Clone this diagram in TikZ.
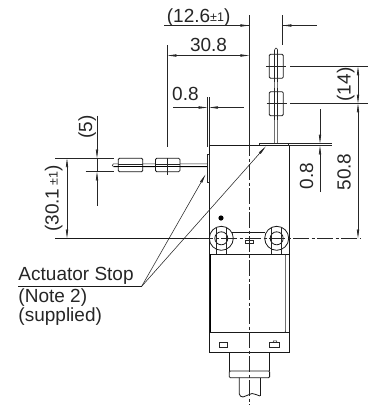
\documentclass[tikz,border=0pt]{standalone}
\usepackage{fontspec}
\setmainfont{Liberation Sans}
\usetikzlibrary{arrows.meta}
\tikzset{
 x=1pt,y=-1pt,
 thin line/.style={line width=0.55pt,black!85},
 body/.style={line width=0.8pt,black!90},
 dimtip/.style={thin line,-{Stealth[length=12pt,width=3.2pt,inset=5pt]}},
 dimboth/.style={thin line,{Stealth[length=12pt,width=3.2pt,inset=5pt]}-{Stealth[length=12pt,width=3.2pt,inset=5pt]}},
 lab/.style={inner sep=0pt,text=black!85,font=\fontsize{19}{19}\selectfont},
 pad/.style={body,rounded corners=1.2pt},
 centre/.style={line width=0.6pt,black!85,dash pattern=on 16pt off 2.5pt on 3pt off 2.5pt},
}
\newcommand{\tol}{{\fontsize{12.5}{12.5}\selectfont\raisebox{1pt}{±1}}}
\begin{document}
\begin{tikzpicture}
\useasboundingbox (0,0) rectangle (368,405);
\fill[white] (0,0) rectangle (368,405);
% named reference points
\coordinate (cx) at (249.3,15);
\coordinate (cb) at (249.3,405);
% body
\draw[body] (209.7,145.5) -- (289,145.5) -- (289,352.3) -- (209.7,352.3) -- cycle;
\draw[body] (209.7,254.3) -- (289,254.3);
\draw[body] (209.7,332.3) -- (289,332.3);
\draw[line width=1.1pt] (210.7,254.3) -- (210.7,332.3);
\draw[thin line] (284.8,254.3) to[out=0,in=90] (285.6,257) -- (285.6,330) to[out=-90,in=0] (284.6,332.3);
% lugs
\draw[body] (232,232.3) -- (265,232.3);
\fill[black] (221,218) circle (2.6);
\foreach \lx in {221.3,276.7}{
 \draw[body] (\lx,238.3) circle (12);
 \draw[body] (\lx,238.3) circle (6.5);
 \draw[thin line] (\lx-5,228) -- (\lx-5,254.3) (\lx+5,228) -- (\lx+5,254.3);
}
\draw[thin line,fill=white] (245.3,240) rectangle (253.3,243.2);
% bottom
\draw[thin line] (219,342.7) rectangle (227.3,347.3);
\draw[thin line] (269.7,342.5) rectangle (279.7,347.3);
\draw[thin line] (273,342.5) -- (273.5,340.8) -- (276.5,340.8) -- (277,342.5);
\draw[body] (229.7,352.3) -- (229.7,371) (269.3,352.3) -- (269.3,371);
\draw[body,rounded corners=1pt] (229.3,371) rectangle (269.6,377.7);
\draw[body] (239.3,377.7) -- (239.3,394) to[out=-80,in=180] (243,397) to[out=0,in=180] (252,393.5) to[out=0,in=170] (260,396);
\draw[body] (260,377.7) -- (260,396);
% top actuator
\draw[thin line] (274.7,145.5) -- (274.7,49.5) -- (276,48) -- (277.7,49.5) -- (277.7,145.5);
\foreach \py in {54.3,91.7}{
 \draw[pad,fill=white] (269.3,\py) rectangle (283.3,\py+24);
 \draw[thin line] (274.7,\py-4) -- (274.7,\py+28) (277.7,\py-4) -- (277.7,\py+28);
}
\draw[thin line] (266,66.5) -- (286,66.5) (266.5,103.5) -- (286.5,103.5);
% top stop
\draw[thin line,fill=white] (259.3,143.4) rectangle (288,145.5);
\draw[body] (259.3,145.5) -- (288,145.5);
% left actuator
\draw[thin line] (207.5,163.8) -- (113.5,163.8) -- (112.3,165.3) -- (113.5,166.8) -- (207.5,166.8);
\draw[line width=1pt] (113.5,166.8) -- (207,166.8);
\foreach \px in {118.3,155.5}{
 \draw[pad,fill=white] (\px,158.3) rectangle (\px+24.4,171.7);
 \draw[thin line] (\px,163.8) -- (\px+24.4,163.8);
 \draw[line width=1pt] (\px,166.8) -- (\px+24.4,166.8);
}
\draw[thin line,fill=white] (207.5,154) rectangle (209.7,182.5);
% centre lines
\draw[centre] (249.3,140) -- (cb);
\draw[thin line] (249.3,15) -- (249.3,140);
\draw[thin line] (282.5,15) -- (282.5,45);
\draw[centre] (197,238.3) -- (360,238.3);
\draw[body] (55,238.3) -- (197,238.3);
% 12.6 dim
\draw[thin line] (164,25.5) -- (249.3,25.5);
\draw[dimtip] (233,25.5) -- (249.3,25.5);
\draw[thin line] (282.5,25.5) -- (317,25.5);
\draw[dimtip] (298,25.5) -- (282.5,25.5);
\node[lab,anchor=base west] at (166.7,22.5) {(12.6\tol)};
% 30.8 dim
\draw[thin line] (167.5,45) -- (167.5,147) (167.5,158) -- (167.5,175);
\draw[dimboth] (167.5,55.5) -- (249.3,55.5);
\node[lab] at (208.5,45) {30.8};
% 0.8 dim top
\draw[thin line] (207.5,97) -- (207.5,147) (209,97) -- (209,145);
\draw[dimtip] (173,107.5) -- (207.5,107.5);
\draw[dimtip] (243.5,107.5) -- (209,107.5);
\node[lab,anchor=base west] at (172,100.7) {0.8};
% 5 dim
\draw[thin line] (55,158.3) -- (114,158.3) (85.7,171.7) -- (114,171.7);
\draw[dimtip] (97,115.7) -- (97,158.3);
\draw[dimtip] (97,205.7) -- (97,171.7);
\draw[thin line] (97,158.3) -- (97,171.7);
\node[lab,rotate=90,anchor=base] at (92,127) {(5)};
% 30.1 dim
\draw[dimboth] (67,158.3) -- (67,238.3);
\node[lab,rotate=90,anchor=base] at (58.5,198.5) {(30.1\,\tol)};
% 14 / 50.8 dim
\draw[thin line] (290,66.5) -- (368,66.5) (290,103.5) -- (368,103.5);
\draw[dimboth] (358,66.5) -- (358,103.5);
\draw[dimboth] (358,103.5) -- (358,238.3);
\node[lab,rotate=90,anchor=base] at (350.7,84.5) {(14)};
\node[lab,rotate=90,anchor=base] at (350.7,172) {50.8};
% 0.8 dim right
\draw[thin line] (289,143.5) -- (331.7,143.5) (289,145.7) -- (331.7,145.7);
\draw[dimtip] (320,109) -- (320,143.5);
\draw[dimtip] (320,192) -- (320,145.7);
\node[lab,rotate=90,anchor=base] at (313,176) {0.8};
% label
\node[lab,anchor=base west] (stop) at (18.3,280.7) {Actuator Stop};
\node[lab,anchor=base west] (note) at (18.3,302.7) {(Note 2)};
\node[lab,anchor=base west] (supp) at (18.3,321) {(supplied)};
\coordinate (elbow) at (141.7,286.3);
\draw[body] (18.3,286.3) -- (elbow);
\draw[dimtip] (elbow) -- (205.5,174.5);
\draw[dimtip] (elbow) -- (265.7,146.5);
\end{tikzpicture}
\end{document}
